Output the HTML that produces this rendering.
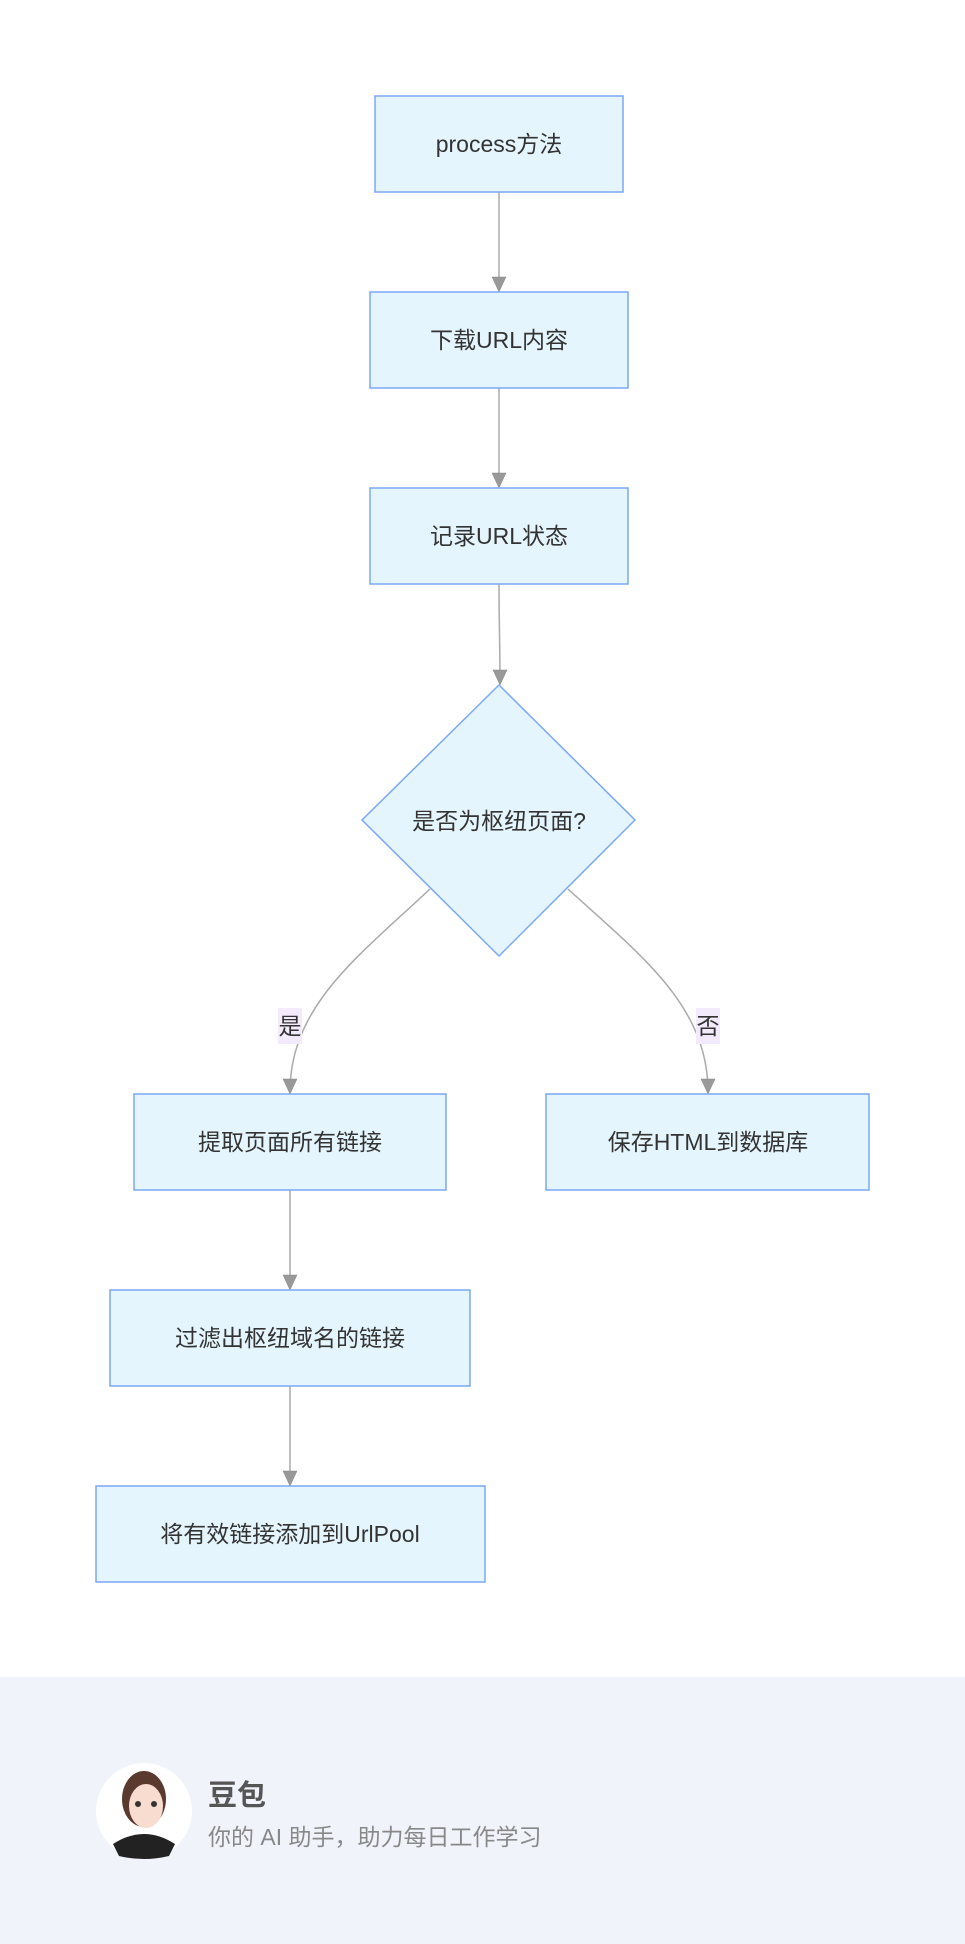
<!DOCTYPE html>
<html><head><meta charset="utf-8"><style>
body{margin:0;width:965px;height:1944px;background:#fff;overflow:hidden;font-family:"Liberation Sans","Noto Sans CJK SC",sans-serif;}
.f{position:absolute;left:0;top:1677px;width:965px;height:267px;background:#f0f3fa;}
</style></head><body>
<svg width="965" height="1677" style="position:absolute;left:0;top:0" font-family="Liberation Sans, Noto Sans CJK SC, sans-serif">
<g stroke="#aaa" stroke-width="1.5" fill="none">
<path d="M499,192 V290"/>
<path d="M499,388 V486"/>
<path d="M499,584 C499,620 500,645 500,684"/>
<path d="M430,889 C360,955 290,1005 290,1092"/>
<path d="M568,889 C640,955 708,1005 708,1092"/>
<path d="M290,1190 V1288"/>
<path d="M290,1386 V1484"/>
</g>
<g fill="#999" stroke="#888" stroke-width="0.5">
<path d="M492,277 L506,277 L499,292 z"/>
<path d="M492,473 L506,473 L499,488 z"/>
<path d="M493,670 L507,670 L500,685 z"/>
<path d="M283,1079 L297,1079 L290,1094 z"/>
<path d="M701,1079 L715,1079 L708,1094 z"/>
<path d="M283,1275 L297,1275 L290,1290 z"/>
<path d="M283,1471 L297,1471 L290,1486 z"/>
</g>
<g fill="#e5f5fd" stroke="#7aa8f5" stroke-width="1.5">
<rect x="375" y="96" width="248" height="96"/>
<rect x="370" y="292" width="258" height="96"/>
<rect x="370" y="488" width="258" height="96"/>
<path d="M499,685 L635,820 L499,956 L362,820 z"/>
<rect x="134" y="1094" width="312" height="96"/>
<rect x="546" y="1094" width="323" height="96"/>
<rect x="110" y="1290" width="360" height="96"/>
<rect x="96" y="1486" width="389" height="96"/>
</g>
<rect x="278" y="1008" width="24" height="36" fill="#f3eafc"/>
<rect x="696" y="1008" width="24" height="36" fill="#f3eafc"/>
<g fill="#333" font-size="23" text-anchor="middle">
<text x="499" y="152">process方法</text>
<text x="499" y="348">下载URL内容</text>
<text x="499" y="544">记录URL状态</text>
<text x="499" y="829">是否为枢纽页面?</text>
<text x="290" y="1034">是</text>
<text x="708" y="1034">否</text>
<text x="290" y="1150">提取页面所有链接</text>
<text x="708" y="1150">保存HTML到数据库</text>
<text x="290" y="1346">过滤出枢纽域名的链接</text>
<text x="290" y="1542">将有效链接添加到UrlPool</text>
</g>
</svg>
<div class="f"></div>
<svg width="965" height="267" style="position:absolute;left:0;top:1677px">
<circle cx="144" cy="134" r="48" fill="#fff"/>
<path d="M113,167 Q144,147 175,167 L169,179 Q144,185 119,179 z" fill="#222"/>
<ellipse cx="144" cy="122" rx="22" ry="28" fill="#5a3a2e"/>
<ellipse cx="146" cy="129" rx="17" ry="22" fill="#f8dccf"/>
<circle cx="138" cy="127" r="3" fill="#333"/><circle cx="154" cy="127" r="3" fill="#333"/>
<text x="208" y="128" font-size="29" font-weight="bold" fill="#555" font-family="Liberation Sans, Noto Sans CJK SC, sans-serif">豆包</text>
<text x="208" y="168" font-size="23" fill="#888" font-family="Liberation Sans, Noto Sans CJK SC, sans-serif">你的 AI 助手，助力每日工作学习</text>
</svg>
</body></html>
